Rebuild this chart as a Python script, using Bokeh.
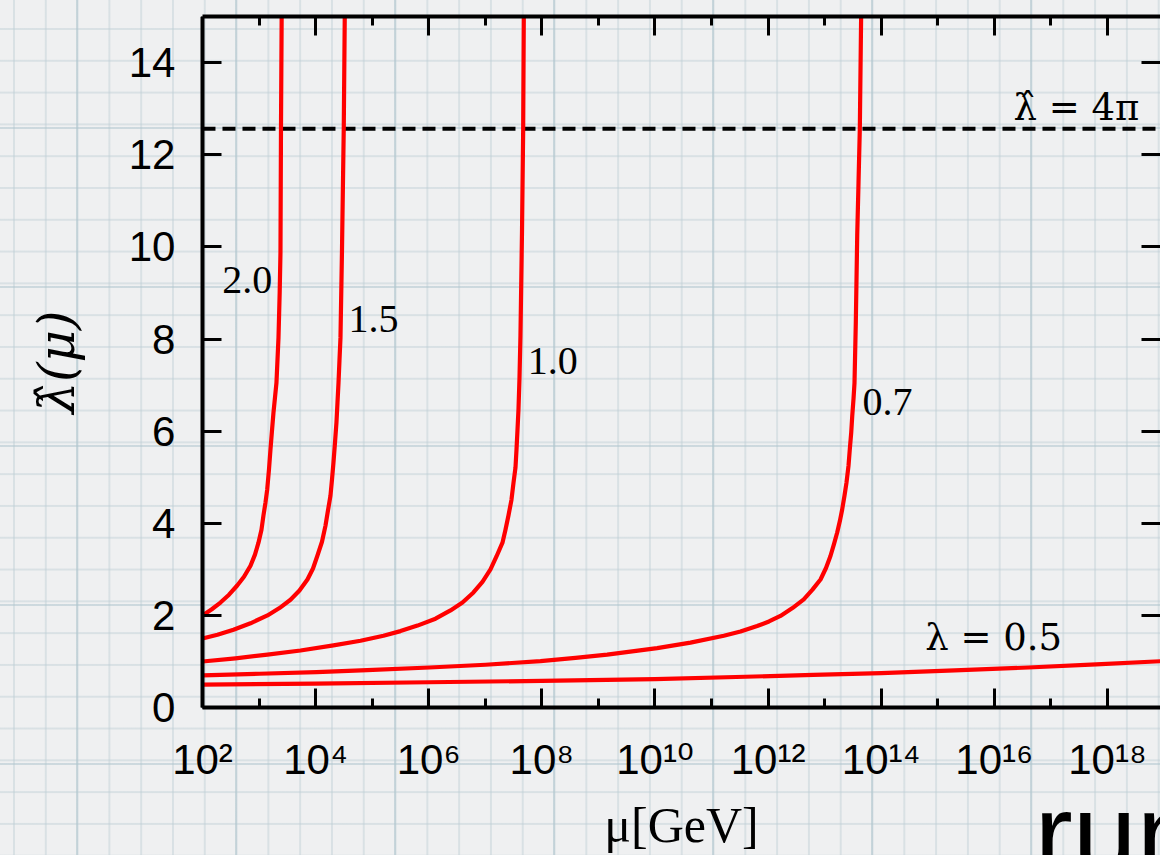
from bokeh.plotting import figure
from bokeh.models import (Label, FixedTicker, LinearAxis, LogAxis,
                          CustomJSTickFormatter, Range1d)
from bokeh.embed import file_html
from bokeh.resources import INLINE
import numpy as np

# ---------------- data ----------------
# visible window of the (cropped) slide, in log10(mu/GeV) and lambda-hat
X_VIEW_LOG = (-1.571, 18.938)
Y_VIEW = (-3.21, 15.0)
X_AXIS_BOUNDS_LOG = (2.0, 19.5)
Y_AXIS_BOUNDS = (0.0, 15.0)

X_MAJOR_EXP = [2, 4, 6, 8, 10, 12, 14, 16, 18]
X_MINOR_EXP = [3, 5, 7, 9, 11, 13, 15, 17, 19]
X_TICK_LABELS = ["10²", "10⁴", "10⁶", "10⁸", "10¹⁰", "10¹²", "10¹⁴", "10¹⁶", "10¹⁸"]
Y_TICKS = [0, 2, 4, 6, 8, 10, 12, 14]

LANDAU_VALUE = 4 * np.pi           # dashed line  lambda-hat = 4 pi
LANDAU_X_LOG = [2.0, 19.5]

# log10(mu / GeV) and lambda-hat for each initial coupling
MU_LOG_20 = [2.000, 2.159, 2.318, 2.469, 2.614, 2.734, 2.849, 2.928, 2.990, 3.043,
             3.078, 3.114, 3.144, 3.176, 3.202, 3.229, 3.255, 3.282, 3.308, 3.344,
             3.365, 3.379, 3.388, 3.401]
LAM_20 = [2.00, 2.13, 2.28, 2.45, 2.65, 2.84, 3.08, 3.32, 3.58, 3.86,
          4.17, 4.45, 4.73, 5.17, 5.60, 6.01, 6.40, 6.73, 7.05, 8.03,
          9.01, 9.88, 12.57, 15.2]

MU_LOG_15 = [2.000, 2.265, 2.548, 2.849, 3.149, 3.361, 3.556, 3.715, 3.856, 3.954,
             4.033, 4.113, 4.175, 4.219, 4.263, 4.290, 4.316, 4.343, 4.369, 4.387,
             4.405, 4.422, 4.440, 4.466, 4.498, 4.517]
LAM_15 = [1.50, 1.58, 1.69, 1.83, 2.00, 2.16, 2.34, 2.54, 2.78, 3.02,
          3.30, 3.60, 3.95, 4.28, 4.60, 4.95, 5.32, 5.75, 6.19, 6.62,
          7.05, 7.53, 8.03, 9.88, 12.59, 15.2]

MU_LOG_10 = [2.000, 2.583, 3.149, 3.733, 4.316, 4.794, 5.200, 5.501, 5.801, 6.120,
             6.385, 6.597, 6.791, 6.950, 7.092, 7.198, 7.304, 7.357, 7.410, 7.463,
             7.499, 7.534, 7.552, 7.569, 7.587, 7.605, 7.622, 7.649, 7.670, 7.682]
LAM_10 = [1.00, 1.07, 1.15, 1.24, 1.35, 1.45, 1.56, 1.66, 1.78, 1.93,
          2.11, 2.28, 2.50, 2.73, 3.00, 3.28, 3.58, 3.86, 4.17, 4.51,
          4.88, 5.21, 5.60, 6.01, 6.47, 7.16, 8.07, 10.31, 12.55, 15.2]

MU_LOG_07 = [2.000, 3.008, 4.016, 4.912, 6.013, 7.004, 7.976, 8.595, 9.155, 10.039,
             10.628, 11.217, 11.512, 11.807, 12.016, 12.219, 12.431, 12.631, 12.785,
             12.927, 13.024, 13.103, 13.165, 13.222, 13.271, 13.310, 13.351, 13.386,
             13.422, 13.445, 13.470, 13.488, 13.511, 13.528, 13.551, 13.576, 13.599,
             13.622, 13.647]
LAM_07 = [0.70, 0.735, 0.77, 0.815, 0.87, 0.93, 1.01, 1.08, 1.15, 1.29,
          1.41, 1.56, 1.65, 1.77, 1.87, 1.99, 2.16, 2.35, 2.56,
          2.78, 3.03, 3.29, 3.55, 3.80, 4.06, 4.30, 4.60, 4.88,
          5.25, 5.61, 5.97, 6.33, 6.71, 7.05, 8.36, 10.25, 11.40,
          12.57, 15.2]

MU_LOG_05 = [2.0, 4.0, 6.0, 8.0, 10.0, 11.6, 12.8, 14.0, 15.3, 16.6, 17.8, 19.0]
LAM_05 = [0.50, 0.52, 0.55, 0.58, 0.62, 0.67, 0.71, 0.75, 0.81, 0.87, 0.94, 1.01]

CURVES = [(MU_LOG_20, LAM_20), (MU_LOG_15, LAM_15), (MU_LOG_10, LAM_10),
          (MU_LOG_07, LAM_07), (MU_LOG_05, LAM_05)]

CURVE_LABELS = ["2.0", "1.5", "1.0", "0.7"]
CURVE_LABEL_X_LOG = [2.35, 4.58, 7.75, 13.67]
CURVE_LABEL_Y = [9.0, 8.15, 7.25, 6.35]

LAMBDA_LABEL = "λ = 0.5"
LAMBDA_LABEL_POS = (14.78, 1.26)
LANDAU_LABEL = "λ̂ = 4π"
LANDAU_LABEL_POS = (16.34, 12.76)

X_AXIS_TITLE = "μ[GeV]"
Y_AXIS_TITLE = "λ̂(μ)"
SLIDE_TEXT = "run"
SLIDE_TEXT_POS = (16.71, -3.54)

# ---------------- figure ----------------
p = figure(width=1160, height=855, x_axis_type="log",
           x_axis_location=None, y_axis_location=None,
           x_range=Range1d(10 ** X_VIEW_LOG[0], 10 ** X_VIEW_LOG[1]),
           y_range=Range1d(*Y_VIEW),
           output_backend="svg", toolbar_location=None,
           min_border_left=0, min_border_right=0,
           min_border_top=16, min_border_bottom=0)

p.border_fill_color = None
p.background_fill_color = None
p.outline_line_color = None
for g in list(p.center):
    g.visible = False

# graph-paper backdrop of the slide
p.styles = {
    "background-color": "#eff0f1",
    "background-image": (
        "linear-gradient(to right, rgba(176,198,206,0.55) 2px, transparent 2px),"
        "linear-gradient(to bottom, rgba(176,198,206,0.55) 2px, transparent 2px),"
        "linear-gradient(to right, rgba(190,206,213,0.45) 1.5px, transparent 1.5px),"
        "linear-gradient(to bottom, rgba(190,206,213,0.45) 1.5px, transparent 1.5px)"
    ),
    "background-size": "159px 159px, 159px 159px, 31.8px 31.8px, 31.8px 31.8px",
    "background-position": "76px 0px, 0px 127px, 13px 0px, 0px 28px",
}

x_ticker = FixedTicker(ticks=[10.0 ** e for e in X_MAJOR_EXP],
                       minor_ticks=[10.0 ** e for e in X_MINOR_EXP])
y_ticker = FixedTicker(ticks=Y_TICKS, minor_ticks=[])
x_bounds = (10 ** X_AXIS_BOUNDS_LOG[0], 10 ** X_AXIS_BOUNDS_LOG[1])


def style_axis(ax, minor=True):
    ax.axis_line_color = "black"
    ax.axis_line_width = 4
    ax.major_tick_line_color = "black"
    ax.major_tick_line_width = 3
    ax.major_tick_in = 19
    ax.major_tick_out = 0
    ax.minor_tick_line_color = "black" if minor else None
    ax.minor_tick_line_width = 3
    ax.minor_tick_in = 9
    ax.minor_tick_out = 0


def blank_labels(ax):
    ax.formatter = CustomJSTickFormatter(code="return '';")
    ax.major_label_text_font_size = "0px"
    ax.major_label_standoff = 0


# bottom axis, sitting at lambda = 0
xa = LogAxis(ticker=x_ticker, bounds=x_bounds, fixed_location=0)
style_axis(xa)
xa.formatter = CustomJSTickFormatter(
    args=dict(exps=X_MAJOR_EXP, labels=X_TICK_LABELS),
    code="const e = Math.round(Math.log10(tick)); const i = exps.indexOf(e); return i >= 0 ? labels[i] : '';")
xa.major_label_text_font = "Liberation Sans, DejaVu Sans"
xa.major_label_text_font_size = "42px"
xa.major_label_text_color = "black"
xa.major_label_standoff = 28
xa.axis_label = X_AXIS_TITLE
xa.axis_label_text_font = "Liberation Serif"
xa.axis_label_text_font_size = "50px"
xa.axis_label_text_font_style = "normal"
xa.axis_label_text_color = "black"
xa.axis_label_standoff = 11
p.add_layout(xa, "below")

# left axis, sitting at mu = 10^2
ya = LinearAxis(ticker=y_ticker, bounds=Y_AXIS_BOUNDS, fixed_location=10 ** X_AXIS_BOUNDS_LOG[0])
style_axis(ya, minor=False)
ya.major_label_text_font = "Liberation Sans"
ya.major_label_text_font_size = "42px"
ya.major_label_text_color = "black"
ya.major_label_standoff = 27
ya.axis_label = Y_AXIS_TITLE
ya.axis_label_text_font = "DejaVu Serif"
ya.axis_label_text_font_size = "50px"
ya.axis_label_text_font_style = "italic"
ya.axis_label_text_color = "black"
ya.axis_label_standoff = 40
p.add_layout(ya, "left")

top = LogAxis(ticker=x_ticker, bounds=x_bounds)
style_axis(top)
blank_labels(top)
p.add_layout(top, "above")

right = LinearAxis(ticker=y_ticker, bounds=Y_AXIS_BOUNDS)
style_axis(right, minor=False)
right.axis_line_color = None
blank_labels(right)
p.add_layout(right, "right")

# dashed 4 pi line
p.line(10 ** np.array(LANDAU_X_LOG), [LANDAU_VALUE, LANDAU_VALUE], line_color="black",
       line_width=4, line_dash="13 7")

for mu_log, lam in CURVES:
    p.line(10 ** np.array(mu_log), lam, line_color="#ff0000", line_width=4.2,
           line_join="round")


def add_label(text, x_log, y, font, size_px):
    # bokeh sets the text a third of an em low; lift it back onto the baseline
    p.add_layout(Label(x=10 ** x_log, y=y, text=text, text_font=font,
                       text_font_size=f"{size_px}px", text_color="black",
                       text_baseline="alphabetic", text_align="left",
                       y_offset=round(0.32 * size_px)))


for txt, xl, yl in zip(CURVE_LABELS, CURVE_LABEL_X_LOG, CURVE_LABEL_Y):
    add_label(txt, xl, yl, "Liberation Serif", 40)

add_label(LAMBDA_LABEL, LAMBDA_LABEL_POS[0], LAMBDA_LABEL_POS[1], "DejaVu Serif", 37)
add_label(LANDAU_LABEL, LANDAU_LABEL_POS[0], LANDAU_LABEL_POS[1], "DejaVu Serif", 37)
add_label(SLIDE_TEXT, SLIDE_TEXT_POS[0], SLIDE_TEXT_POS[1], "Liberation Sans", 115)

open("out.html", "w").write(file_html(p, INLINE))
